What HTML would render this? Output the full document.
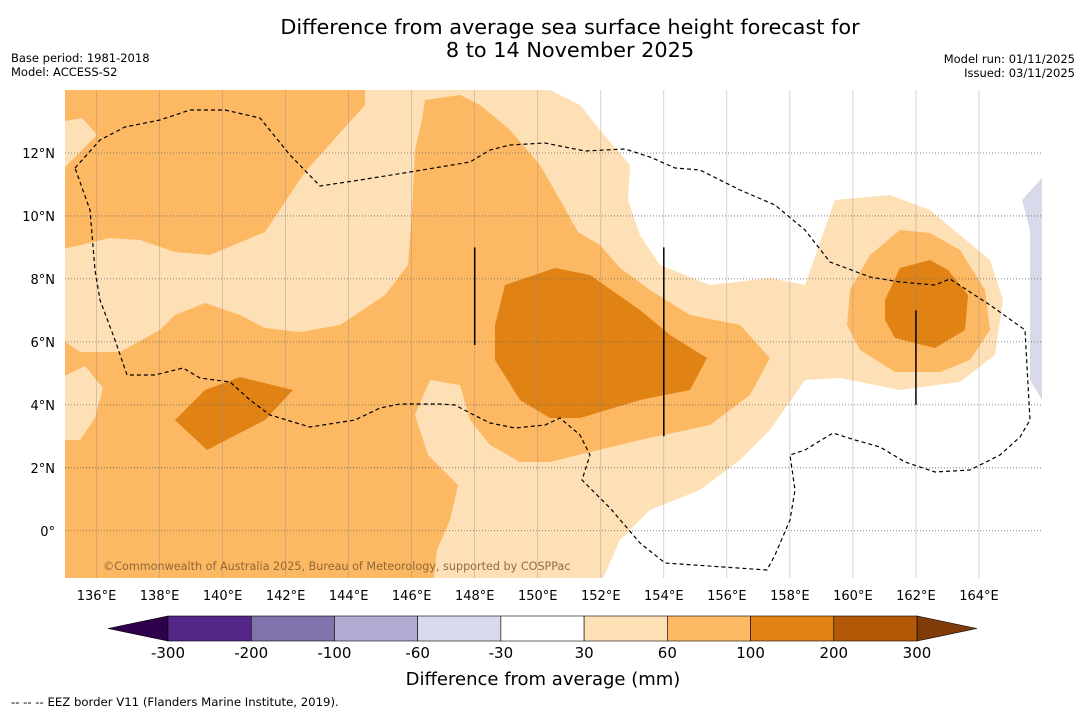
<!DOCTYPE html>
<html><head><meta charset="utf-8"><style>
body{margin:0;background:#fff;font-family:"DejaVu Sans","Liberation Sans",sans-serif;}
svg{display:block}
</style></head><body>
<svg id="chart" width="1085" height="713" xmlns="http://www.w3.org/2000/svg" font-family="DejaVu Sans, Liberation Sans, sans-serif">
<text x="570" y="34" font-size="20.8" text-anchor="middle">Difference from average sea surface height forecast for</text>
<text x="570" y="57" font-size="20.8" text-anchor="middle">8 to 14 November 2025</text>
<text x="11" y="62" font-size="11.5">Base period: 1981-2018</text>
<text x="11" y="76" font-size="11.5">Model: ACCESS-S2</text>
<text x="1075" y="63" font-size="11.5" text-anchor="end">Model run: 01/11/2025</text>
<text x="1075" y="77" font-size="11.5" text-anchor="end">Issued: 03/11/2025</text>
<defs><clipPath id="mapclip"><rect x="65" y="90" width="977" height="488"/></clipPath></defs>
<g id="map" clip-path="url(#mapclip)"></g>
<g id="axes"></g>
<g id="cbar"></g>
<text x="543" y="685" font-size="18" text-anchor="middle">Difference from average (mm)</text>
<text x="11" y="706" font-size="11.7">--  --  -- EEZ border V11 (Flanders Marine Institute, 2019).</text>
</svg>
<script>
const lonTicks=[136,138,140,142,144,146,148,150,152,154,156,158,160,162,164];
const latTicks=[0,2,4,6,8,10,12];
const levels=["-300","-200","-100","-60","-30","30","60","100","200","300"];
const binColors=["#542788","#8073ac","#b2abd2","#d8daeb","#ffffff","#fee0b6","#fdb863","#e08214","#b35806"];
const extColors=["#2d004b","#7f3b08"];
const lonMin=135,lonMax=166,latMin=-1.5,latMax=14;
const X0=65,X1=1042,Y0=90,Y1=578;
function xs(lon){return X0+(lon-lonMin)/(lonMax-lonMin)*(X1-X0);}
function ys(lat){return Y0+(latMax-lat)/(latMax-latMin)*(Y1-Y0);}
function px(x){return lonMin+(x-X0)/(X1-X0)*(lonMax-lonMin);}
function py(y){return latMax-(y-Y0)/(Y1-Y0)*(latMax-latMin);}
function P(a){const r=[];for(let i=0;i<a.length;i+=2)r.push([px(a[i]),py(a[i+1])]);return r;}
const whiteRegion=P([540,85,580,105,600,130,630,165,628,200,640,235,660,265,710,285,770,278,805,285,835,200,890,195,930,210,960,235,990,260,1003,300,995,355,960,382,900,390,840,378,805,380,770,430,740,460,700,490,650,510,620,540,600,585,1050,585,1050,85]);
const lavRegion=P([1050,175,1042,178,1022,200,1030,230,1030,380,1042,400,1050,400]);
const medRegions=[
P([60,85,365,85,365,105,305,172,265,232,210,255,175,252,140,240,110,238,60,250,60,172,97,135,82,118,60,122]),
P([60,338,80,352,120,352,160,330,175,315,205,303,240,315,265,328,300,332,340,325,385,295,408,265,412,210,415,150,422,120,425,100,460,95,480,105,510,130,540,165,560,200,578,232,600,245,620,268,650,290,690,315,740,325,770,358,750,395,710,425,640,440,590,452,550,462,520,462,490,445,470,420,460,385,430,380,415,415,428,455,458,485,450,520,437,550,433,585,60,585,60,440,80,440,95,418,103,388,85,366,60,378]),
P([850,290,870,255,900,230,930,233,960,250,985,290,990,330,970,360,940,372,895,372,860,350,847,325])];
const darkRegions=[
P([495,325,505,285,555,268,590,275,640,310,670,335,707,358,690,390,640,400,580,418,550,418,520,400,495,360]),
P([175,420,205,390,240,377,293,390,265,420,207,450]),
P([885,300,900,268,930,260,948,270,968,295,965,330,935,348,895,338,885,320])];
const eezLine=P([75,168,100,140,125,127,160,120,190,110,225,110,260,118,290,155,320,186,360,180,410,172,470,162,490,150,510,145,545,143,585,151,625,149,650,157,675,168,700,170,740,190,775,205,805,230,830,262,870,277,900,282,935,285,950,279,990,305,1025,330,1030,420,1020,437,1000,455,970,470,935,472,905,462,880,447,855,440,833,433,805,450,790,455,795,490,790,520,775,555,767,570,665,563,640,543,610,508,582,480,590,455,580,435,560,418,545,425,515,428,490,423,470,413,455,405,440,404,400,404,380,408,355,420,310,427,270,415,250,400,230,382,200,378,183,368,155,375,127,375,115,340,100,300,95,270,90,210,75,168]);
const vLines=[[148,9,5.9],[154,9,3],[162,7,4]];
const NS="http://www.w3.org/2000/svg";
function mk(t,a,p){const e=document.createElementNS(NS,t);for(const k in a)e.setAttribute(k,a[k]);p.appendChild(e);return e;}
function pts(r){return r.map(p=>xs(p[0]).toFixed(1)+","+ys(p[1]).toFixed(1)).join(" ");}
const map=document.getElementById('map');
let e=mk('rect',{x:X0,y:Y0,width:X1-X0,height:Y1-Y0,fill:binColors[5]},map);


e=mk('polygon',{points:pts(whiteRegion),fill:binColors[4]},map);


e=mk('polygon',{points:pts(lavRegion),fill:binColors[3]},map);


medRegions.forEach(r=>{const q=mk('polygon',{points:pts(r),fill:binColors[6]},map);

});
darkRegions.forEach(r=>{const q=mk('polygon',{points:pts(r),fill:binColors[7]},map);

});
lonTicks.forEach(l=>{const q=mk('line',{x1:xs(l),x2:xs(l),y1:Y0,y2:Y1,stroke:"#888",'stroke-width':0.6,'stroke-opacity':0.6},map);

});
latTicks.forEach(l=>{const q=mk('line',{x1:X0,x2:X1,y1:ys(l),y2:ys(l),stroke:"#666",'stroke-width':0.8,'stroke-dasharray':'1,2'},map);

});
e=mk('polyline',{points:pts(eezLine),fill:"none",stroke:"#000",'stroke-width':1.2,'stroke-dasharray':'4,3'},map);


vLines.forEach(v=>{const q=mk('line',{x1:xs(v[0]),x2:xs(v[0]),y1:ys(v[1]),y2:ys(v[2]),stroke:"#000",'stroke-width':1.5},map);

});
e=mk('text',{x:103,y:570,'font-size':11.2,fill:"#7a5a30",'fill-opacity':0.85},map);
e.textContent="©Commonwealth of Australia 2025, Bureau of Meteorology, supported by COSPPac";


const ax=document.getElementById('axes');
lonTicks.forEach(l=>{const t=mk('text',{x:xs(l),y:600,'font-size':13,'text-anchor':'middle'},ax);t.textContent=l+"°E";

});
latTicks.forEach(l=>{const t=mk('text',{x:55,y:ys(l)+5,'font-size':13,'text-anchor':'end'},ax);t.textContent=l===0?"0°":l+"°N";

});
const cb=document.getElementById('cbar');
const cx0=168,cx1=917,cy=616,ch=25,cw=(cx1-cx0)/binColors.length;
e=mk('polygon',{points:`108,${cy+ch/2} ${cx0},${cy} ${cx0},${cy+ch}`,fill:extColors[0],stroke:"#000",'stroke-width':0.6},cb);


e=mk('polygon',{points:`977,${cy+ch/2} ${cx1},${cy} ${cx1},${cy+ch}`,fill:extColors[1],stroke:"#000",'stroke-width':0.6},cb);


binColors.forEach((c,i)=>{const r=mk('rect',{x:cx0+i*cw,y:cy,width:cw,height:ch,fill:c,stroke:"#000",'stroke-width':0.6},cb);

});
levels.forEach((l,i)=>{const t=mk('text',{x:cx0+i*cw,y:658,'font-size':15,'text-anchor':'middle'},cb);t.textContent=l;

});
</script>
</body></html>
